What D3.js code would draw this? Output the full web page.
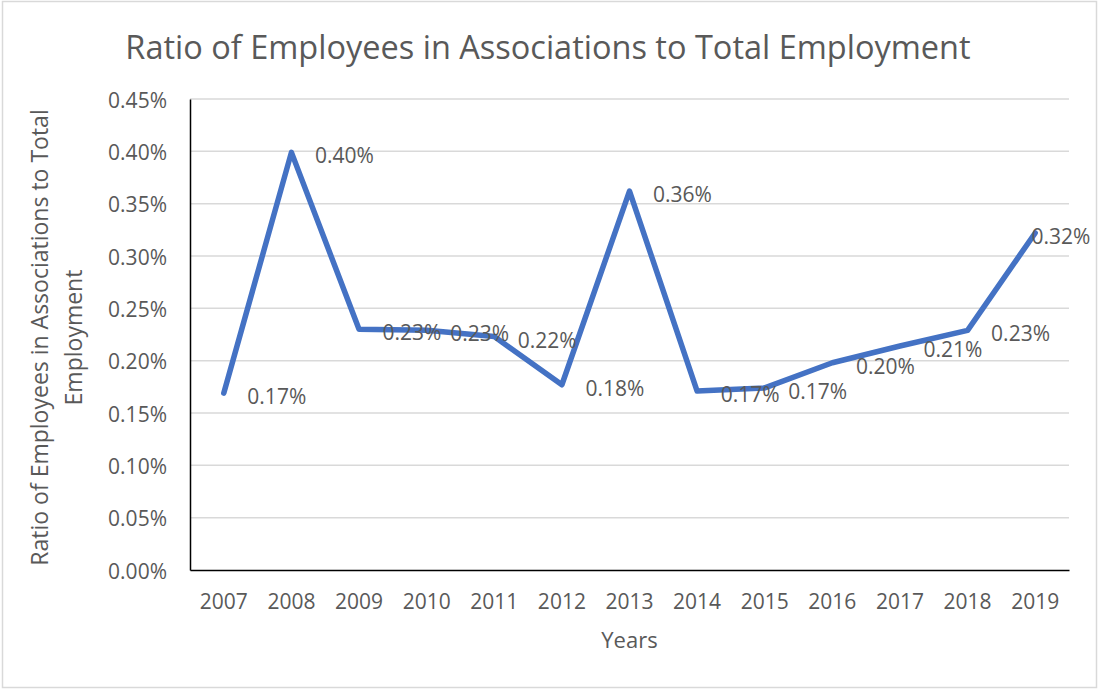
<!DOCTYPE html>
<html>
<head>
<meta charset="utf-8">
<script src="https://cdn.jsdelivr.net/npm/d3@7"></script>
<style>
  html, body { margin: 0; padding: 0; background: #fff; }
  svg { display: block; }
  text { font-family: "Open Sans", "Noto Sans", sans-serif; fill: #595959; }
</style>
</head>
<body>
<svg id="chart" width="1098" height="690"></svg>
<script>
// Share of employees working in associations, in percent of total employment
const years = ["2007", "2008", "2009", "2010", "2011", "2012", "2013",
               "2014", "2015", "2016", "2017", "2018", "2019"];
const ratioPct = [0.169, 0.399, 0.230, 0.229, 0.223, 0.177, 0.362,
                  0.171, 0.174, 0.198, 0.214, 0.229, 0.322];
const yTicks = [0, 0.05, 0.10, 0.15, 0.20, 0.25, 0.30, 0.35, 0.40, 0.45];

const titleText = "Ratio of Employees in Associations to Total Employment";
const yTitleLines = ["Ratio of Employees in Associations to Total", "Employment"];
const xTitleText = "Years";

const W = 1098, H = 690;
const margin = { left: 190, right: 29, top: 99, bottom: 120 };

const svg = d3.select("#chart");

// outer chart frame
svg.append("rect")
  .attr("x", 2.5).attr("y", 1.5)
  .attr("width", 1094).attr("height", 686)
  .attr("fill", "#fff")
  .attr("stroke", "#D9D9D9").attr("stroke-width", 1.5);

const x = d3.scaleBand()
  .domain(years)
  .range([margin.left, W - margin.right]);

const y = d3.scaleLinear()
  .domain([0, 0.45])
  .range([H - margin.bottom, margin.top]);

const pct = d3.format(".2f");

// horizontal gridlines
svg.append("g")
  .selectAll("line")
  .data(yTicks.filter(d => d > 0))
  .join("line")
  .attr("x1", margin.left).attr("x2", W - margin.right)
  .attr("y1", d => y(d)).attr("y2", d => y(d))
  .attr("stroke", "#D9D9D9").attr("stroke-width", 1.5);

// y axis
const yAxis = svg.append("g")
  .attr("transform", `translate(${margin.left},0)`)
  .call(d3.axisLeft(y).tickValues(yTicks).tickSize(0).tickPadding(23)
        .tickFormat(d => pct(d) + "%"));
yAxis.select(".domain").attr("stroke", "#000").attr("stroke-width", 1.5);
yAxis.selectAll("text")
  .attr("dy", null)
  .attr("dominant-baseline", "central")
  .style("font-family", "'Open Sans', sans-serif")
  .style("font-size", "21px").attr("fill", "#595959");

// x axis
const xAxis = svg.append("g")
  .attr("transform", `translate(0,${H - margin.bottom})`)
  .call(d3.axisBottom(x).tickSize(0));
xAxis.select(".domain").attr("stroke", "#000").attr("stroke-width", 1.5);
xAxis.selectAll("text")
  .attr("y", 31)
  .attr("dy", null)
  .attr("dominant-baseline", "central")
  .style("font-family", "'Open Sans', sans-serif")
  .style("font-size", "21px").attr("fill", "#595959");

// series line
const cx = d => x(d) + x.bandwidth() / 2;
const pts = years.map((yr, i) => ({ yr, v: ratioPct[i] }));

svg.append("path")
  .datum(pts)
  .attr("fill", "none")
  .attr("stroke", "#4472C4")
  .attr("stroke-width", 5.5)
  .attr("stroke-linejoin", "round")
  .attr("stroke-linecap", "round")
  .attr("d", d3.line().x(d => cx(d.yr)).y(d => y(d.v)));

// data labels, placed to the right of each point
svg.append("g")
  .selectAll("text")
  .data(pts)
  .join("text")
  .attr("x", d => Math.min(cx(d.yr) + 53, 1061))
  .attr("y", d => y(d.v) + 3)
  .attr("text-anchor", "middle")
  .attr("dominant-baseline", "central")
  .style("font-size", "21px")
  .attr("fill", "#404040")
  .text(d => pct(d.v) + "%");

// chart title
svg.append("text")
  .attr("x", 548).attr("y", 46)
  .attr("text-anchor", "middle")
  .attr("dominant-baseline", "central")
  .style("font-size", "32.5px")
  .text(titleText);

// y axis title (two lines, rotated)
const yt = svg.append("text")
  .attr("transform", `translate(39,${(margin.top + H - margin.bottom) / 2 + 3}) rotate(-90)`)
  .attr("text-anchor", "middle")
  .attr("dominant-baseline", "central")
  .style("font-size", "23px");
yTitleLines.forEach((line, i) => {
  yt.append("tspan").attr("x", 0).attr("dy", i === 0 ? 0 : 34).text(line);
});

// x axis title
svg.append("text")
  .attr("x", (margin.left + W - margin.right) / 2).attr("y", 639)
  .attr("text-anchor", "middle")
  .attr("dominant-baseline", "central")
  .style("font-size", "22px")
  .text(xTitleText);
</script>
</body>
</html>
